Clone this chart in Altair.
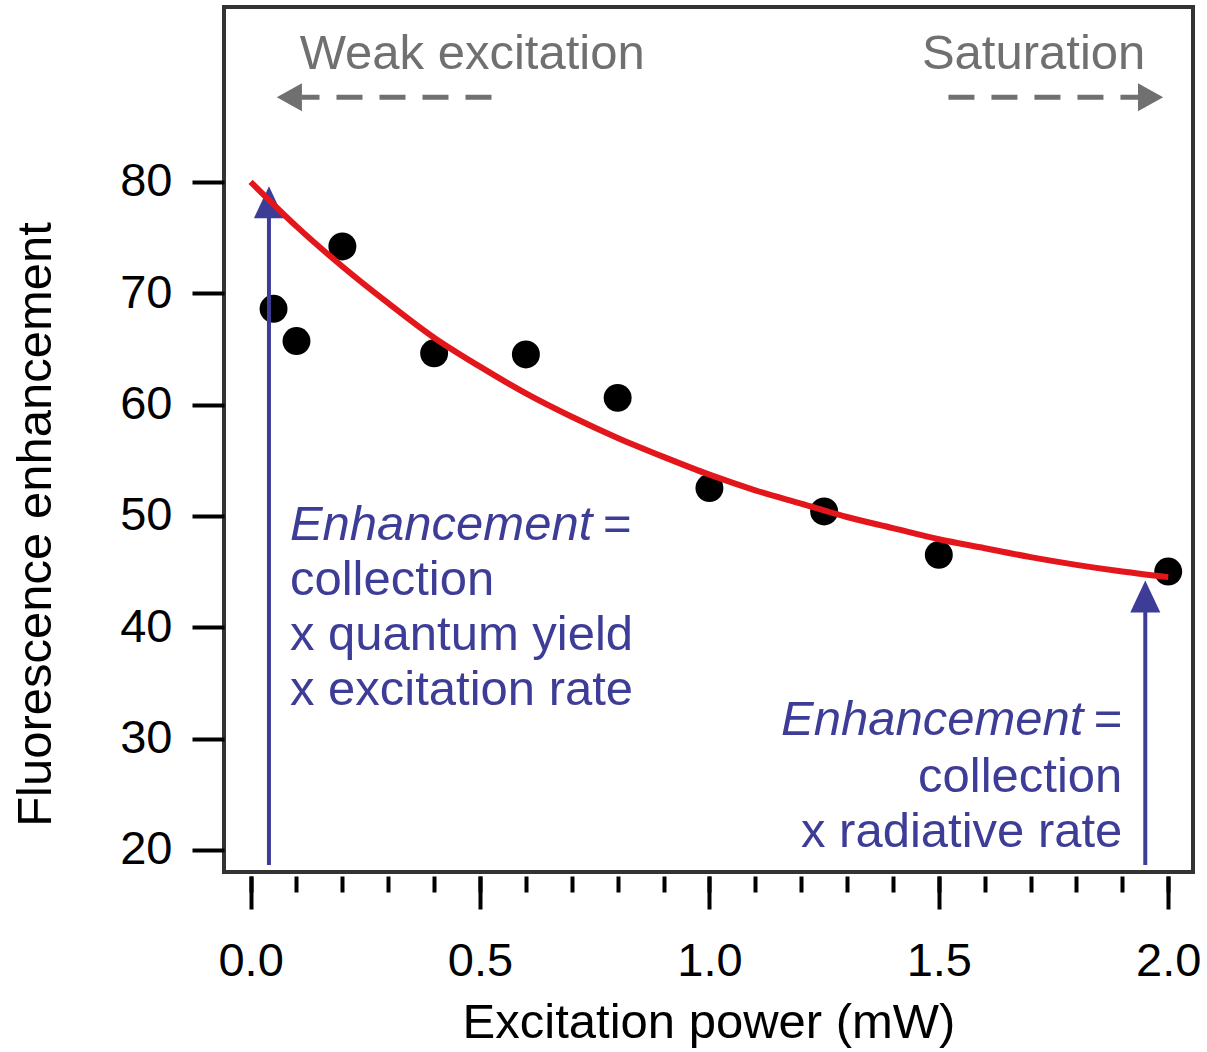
import altair as alt
import pandas as pd

# ---------------- data ----------------
power = [0.05, 0.1, 0.2, 0.4, 0.6, 0.8, 1.0, 1.25, 1.5, 2.0]
enhancement = [68.6, 65.7, 74.2, 64.6, 64.5, 60.6, 52.5, 50.4, 46.5, 45.0]

fit_power = [0.0, 0.1, 0.2, 0.3, 0.4, 0.5, 0.6, 0.7, 0.8, 0.9, 1.0,
             1.1, 1.2, 1.3, 1.4, 1.5, 1.6, 1.7, 1.8, 1.9, 2.0]
fit_enh = [80.0, 76.0, 72.4, 69.1, 66.0, 63.4, 61.0, 58.9, 57.0, 55.3, 53.7,
           52.3, 51.1, 49.9, 48.9, 47.9, 47.1, 46.3, 45.6, 45.0, 44.5]

x_major = [0.0, 0.5, 1.0, 1.5, 2.0]
x_minor = [0.0, 0.1, 0.2, 0.3, 0.4, 0.5, 0.6, 0.7, 0.8, 0.9, 1.0,
           1.1, 1.2, 1.3, 1.4, 1.5, 1.6, 1.7, 1.8, 1.9, 2.0]
y_ticks = [20, 30, 40, 50, 60, 70, 80]

# blue arrows (x position, bottom, head base, tip)
blue_x = [0.04, 1.95]
blue_bottom = [18.65, 18.65]
blue_base = [77.0, 41.6]
blue_tip = [79.6, 44.2]

# grey dashed arrows
grey_y = [87.6, 87.6]
grey_start = [0.525, 1.521]
grey_end = [0.111, 1.935]
grey_tip = [0.057, 1.989]

# grey labels
grey_labels = ["Weak excitation", "Saturation"]
grey_label_x = [0.107, 1.95]
grey_label_y = [90.1, 90.1]

# blue text blocks
left_lines = ["collection", "x quantum yield", "x excitation rate"]
left_line_y = [42.9, 37.96, 33.0]
left_x = 0.0857
left_head_y = 47.85
left_eq_x = 0.768

right_lines = ["collection", "x radiative rate"]
right_line_y = [25.24, 20.3]
right_x = 1.90
right_head_y = 30.33
right_enh_x = 1.815

FONT = "Liberation Sans"
BLUE = "#3d3d98"
GREY = "#707070"
FS_TEXT = 49
FS_TICK = 47
FS_TITLE = 49

xs = alt.Scale(domain=[-0.058, 2.054], nice=False, zero=False)
ys = alt.Scale(domain=[18.02, 95.7], nice=False, zero=False)

y_axis = alt.Axis(
    values=y_ticks, orient="left", tickSize=32, tickWidth=4, tickColor="black",
    domain=False, grid=False, labelPadding=20, labelFont=FONT,
    labelFontSize=FS_TICK, labelColor="black",
    title="Fluorescence enhancement", titleFont=FONT, titleFontSize=FS_TITLE,
    titleFontWeight="normal", titleColor="black", titleBaseline="alphabetic",
    titleX=-174, titleY=517)


def X(field):
    return alt.X(field, scale=xs, axis=None)


def Y(field):
    return alt.Y(field, scale=ys, axis=y_axis)


pts = pd.DataFrame({"p": power, "e": enhancement})
fit = pd.DataFrame({"p": fit_power, "e": fit_enh})

points = alt.Chart(pts).mark_circle(size=780, color="black", opacity=1).encode(
    x=alt.X("p:Q", scale=xs, axis=alt.Axis(
        values=x_major, orient="bottom", format=".1f", tickSize=33, tickWidth=4,
        tickColor="black", domain=False, grid=False, offset=4, labelPadding=29,
        labelFont=FONT, labelFontSize=FS_TICK, labelColor="black",
        title="Excitation power (mW)", titleFont=FONT, titleFontSize=FS_TITLE,
        titleFontWeight="normal", titleColor="black", titleBaseline="alphabetic",
        titleY=161)),
    y=Y("e:Q"),
)

line = alt.Chart(fit).mark_line(color="#e3161b", strokeWidth=6, interpolate="monotone").encode(
    x=alt.X("p:Q", scale=xs, axis=alt.Axis(
        values=x_minor, orient="bottom", tickSize=16, tickWidth=4, tickColor="black",
        labels=False, domain=False, grid=False, offset=4, title=None)),
    y=Y("e:Q"),
)

bdf = pd.DataFrame({"x": blue_x, "b": blue_bottom, "h": blue_base, "t": blue_tip})
blue_rule = alt.Chart(bdf).mark_rule(color=BLUE, strokeWidth=4).encode(
    x=X("x:Q"), y=Y("b:Q"), y2="h:Q",
)
blue_head = alt.Chart(bdf).mark_point(
    shape="M0,-1L-0.94,1L0.94,1Z", size=1024, filled=True, opacity=1,
    color=BLUE, strokeWidth=0, yOffset=16).encode(
    x=X("x:Q"), y=Y("t:Q"),
)

gdf = pd.DataFrame({"y": grey_y, "s": grey_start, "e": grey_end, "t": grey_tip,
                    "side": ["left", "right"]})
grey_rule = alt.Chart(gdf).mark_rule(color=GREY, strokeWidth=5, strokeDash=[26, 17]).encode(
    x=X("s:Q"), x2="e:Q", y=Y("y:Q"),
)
grey_head_l = alt.Chart(gdf).transform_filter(alt.datum.side == "left").mark_point(
    shape="M0.8,-1L-1,0L0.8,1Z", size=784, filled=True, opacity=1, color=GREY,
    strokeWidth=0, xOffset=14).encode(x=X("t:Q"), y=Y("y:Q"))
grey_head_r = alt.Chart(gdf).transform_filter(alt.datum.side == "right").mark_point(
    shape="M-0.8,-1L1,0L-0.8,1Z", size=784, filled=True, opacity=1, color=GREY,
    strokeWidth=0, xOffset=-14).encode(x=X("t:Q"), y=Y("y:Q"))

gl = pd.DataFrame({"label": grey_labels, "x": grey_label_x, "y": grey_label_y,
                   "side": ["left", "right"]})
grey_text_l = alt.Chart(gl).transform_filter(alt.datum.side == "left").mark_text(
    font=FONT, fontSize=FS_TEXT, color=GREY, align="left", baseline="alphabetic").encode(
    x=X("x:Q"), y=Y("y:Q"), text="label:N")
grey_text_r = alt.Chart(gl).transform_filter(alt.datum.side == "right").mark_text(
    font=FONT, fontSize=FS_TEXT, color=GREY, align="right", baseline="alphabetic").encode(
    x=X("x:Q"), y=Y("y:Q"), text="label:N")

ldf = pd.DataFrame({"label": left_lines, "y": left_line_y, "x": [left_x] * len(left_lines)})
left_text = alt.Chart(ldf).mark_text(
    font=FONT, fontSize=FS_TEXT, color=BLUE, align="left", baseline="alphabetic").encode(
    x=X("x:Q"), y=Y("y:Q"), text="label:N")
lhead = pd.DataFrame({"label": ["Enhancement", "="], "x": [left_x, left_eq_x],
                      "y": [left_head_y, left_head_y], "style": ["italic", "normal"]})
left_head_it = alt.Chart(lhead).transform_filter(alt.datum.style == "italic").mark_text(
    font=FONT, fontSize=FS_TEXT, color=BLUE, align="left", baseline="alphabetic",
    fontStyle="italic").encode(x=X("x:Q"), y=Y("y:Q"), text="label:N")
left_head_eq = alt.Chart(lhead).transform_filter(alt.datum.style == "normal").mark_text(
    font=FONT, fontSize=FS_TEXT, color=BLUE, align="left", baseline="alphabetic").encode(
    x=X("x:Q"), y=Y("y:Q"), text="label:N")

rdf = pd.DataFrame({"label": right_lines, "y": right_line_y, "x": [right_x] * len(right_lines)})
right_text = alt.Chart(rdf).mark_text(
    font=FONT, fontSize=FS_TEXT, color=BLUE, align="right", baseline="alphabetic").encode(
    x=X("x:Q"), y=Y("y:Q"), text="label:N")
rhead = pd.DataFrame({"label": ["Enhancement", "="], "x": [right_enh_x, right_x],
                      "y": [right_head_y, right_head_y], "style": ["italic", "normal"]})
right_head_it = alt.Chart(rhead).transform_filter(alt.datum.style == "italic").mark_text(
    font=FONT, fontSize=FS_TEXT, color=BLUE, align="right", baseline="alphabetic",
    fontStyle="italic").encode(x=X("x:Q"), y=Y("y:Q"), text="label:N")
right_head_eq = alt.Chart(rhead).transform_filter(alt.datum.style == "normal").mark_text(
    font=FONT, fontSize=FS_TEXT, color=BLUE, align="right", baseline="alphabetic").encode(
    x=X("x:Q"), y=Y("y:Q"), text="label:N")

chart = alt.layer(
    points, blue_rule, blue_head, line, grey_rule, grey_head_l, grey_head_r,
    grey_text_l, grey_text_r, left_text, left_head_it, left_head_eq,
    right_text, right_head_it, right_head_eq,
).resolve_axis(x="independent").properties(
    width=969, height=865,
    autosize=alt.AutoSizeParams(type="none"),
    padding={"left": 224, "top": 7, "right": 14, "bottom": 180},
    background="white",
).configure_view(stroke="#333333", strokeWidth=4)

chart.save("out.html", embed_options={"renderer": "svg", "actions": False})
